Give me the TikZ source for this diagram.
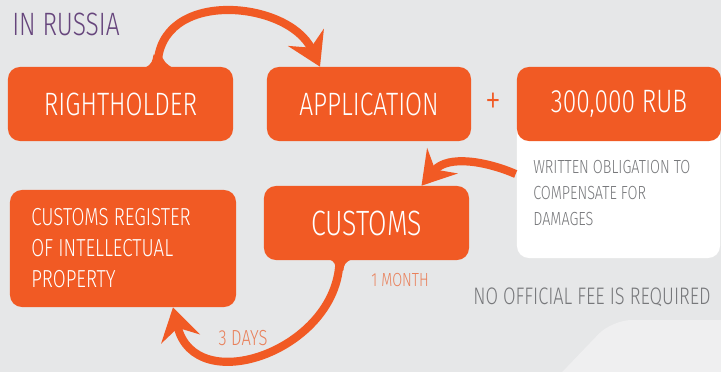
\documentclass[tikz,border=0pt]{standalone}
\usepackage{fontspec}
\setmainfont{Fira Sans Light}[FakeStretch=0.76]
\usetikzlibrary{arrows.meta,calc}

\definecolor{rusorange}{HTML}{F15A24}
\definecolor{rusback}{HTML}{E6E7E8}
\definecolor{rusfaint}{HTML}{EFEFF0}
\definecolor{rusgreytext}{HTML}{77787B}
\definecolor{rusnote}{HTML}{E9805A}
\definecolor{ruspurple}{HTML}{66457C}

\tikzset{
  stepbox/.style={fill=rusorange, rounded corners=0.3cm, text=white, inner sep=0pt,
    minimum height=1.85cm, font=\fontsize{23}{26}\selectfont},
  notebox/.style={fill=white, rounded corners=0.3cm, inner sep=0pt},
  flow/.style={draw=rusorange, line width=5.8pt,
    -{Stealth[length=23pt,width=28pt,inset=8pt]}},
  small/.style={inner sep=0pt, font=\fontsize{13.5}{18.4}\selectfont},
}

\begin{document}
\begin{tikzpicture}[x=0.025cm,y=-0.025cm]
  \fill[rusback] (0,0) rectangle (721,372);
  \useasboundingbox (0,0) rectangle (721,372);
  \fill[rusfaint, rounded corners=14pt] (745,320) -- (612,320) -- (545,390) -- (745,390) -- cycle;

  \node[inner sep=0pt, text=ruspurple, font=\fontsize{23}{26}\selectfont] (title) at (66,24) {IN RUSSIA};

  % first row
  \node[stepbox, minimum width=5.625cm] (rh) at (120.5,104) {RIGHTHOLDER};
  \node[stepbox, minimum width=5.1cm] (app) at (369,104) {APPLICATION};
  \node[inner sep=0pt, text=rusorange, font=\fontsize{30}{30}\selectfont] (plus) at (493,104) {+};
  \node[notebox, minimum width=5.075cm, minimum height=3.7cm] (wb) at (618.5,184) {};
  \node[stepbox, minimum width=5.1cm] (rub) at (619,104) {300,000 RUB};
  \node[small, anchor=north west, align=left, text=rusgreytext] (obl) at (533,160)
    {WRITTEN OBLIGATION TO\\COMPENSATE FOR\\DAMAGES};

  % second row
  \node[stepbox, minimum width=5.125cm, font=\fontsize{25}{30}\selectfont] (cus) at (366.5,223) {CUSTOMS};
  \node[stepbox, minimum width=5.65cm, minimum height=2.925cm] (reg) at (123,248.5) {};
  \node[inner sep=0pt, anchor=north west, align=left, text=white,
    font=\fontsize{17.5}{22}\selectfont] (regtext) at (31,208)
    {CUSTOMS REGISTER\\OF INTELLECTUAL\\PROPERTY};

  \node[small, text=rusnote] (month) at (400,280) {1 MONTH};
  \node[inner sep=0pt, text=rusnote, font=\fontsize{15.5}{18}\selectfont] (days) at (243,338) {3 DAYS};
  \node[inner sep=0pt, text=rusgreytext, font=\fontsize{17}{20}\selectfont] (fee) at (592,297) {NO OFFICIAL FEE IS REQUIRED};

  % arrows, with a small flare where they leave a box
  \draw[flow] ($(rh.north)+(37,0)$) .. controls (158,-12) and (288,0) .. ($(app.north)+(-49,0)$);
  \fill[rusorange] ($(rh.north)+(24,1)$) .. controls +(8,-3) and +(-1,5) .. ($(rh.north)+(33,-12)$)
    -- ($(rh.north)+(41,-12)$) .. controls +(1,5) and +(-6,-3) .. ($(rh.north)+(52,1)$) -- cycle;
  \draw[flow] ($(wb.west)+(-1,-10)$) .. controls (488,162) and (448,154) .. ($(cus.north)+(55,0)$);
  \draw[flow] ($(cus.south)+(-27,0)$) .. controls (338,350) and (195,400) .. ($(reg.south)+(50,0)$);
  \fill[rusorange] ($(cus.south)+(-38,-1)$) .. controls +(7,2) and +(0,-5) .. ($(cus.south)+(-31,10)$)
    -- ($(cus.south)+(-23,10)$) .. controls +(0,-5) and +(-7,2) .. ($(cus.south)+(-14,-1)$) -- cycle;
\end{tikzpicture}
\end{document}
